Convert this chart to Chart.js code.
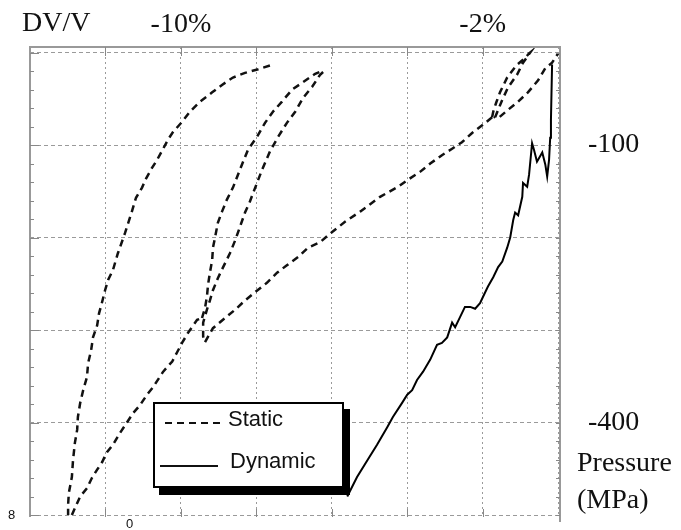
<!DOCTYPE html>
<html>
<head>
<meta charset="utf-8">
<script src="https://cdn.jsdelivr.net/npm/chart.js@4.4.1/dist/chart.umd.min.js"></script>
<style>
  body { margin: 0; background: #fff; }
  #wrap { position: relative; width: 681px; height: 530px; overflow: hidden; background: #fff; }
  .lbl { position: absolute; font-family: "Liberation Serif", serif; font-size: 28px; line-height: 1; color: #111; white-space: nowrap; }
  .small { position: absolute; font-family: "Liberation Sans", sans-serif; font-size: 13px; line-height: 1; color: #111; }
  #legend { position: absolute; left: 153px; top: 402px; width: 187px; height: 82px; border: 2px solid #000; background: #fff; box-shadow: 6px 7px 0 #000; }
  .leg { position: absolute; font-family: "Liberation Sans", sans-serif; font-size: 22px; line-height: 1; color: #111; }
</style>
</head>
<body>
<div id="wrap">
  <canvas id="chart" width="681" height="530"></canvas>
  <div class="lbl" style="left:22px; top:8px;">DV/V</div>
  <div class="lbl" style="left:577px; top:448px;">Pressure</div>
  <div class="lbl" style="left:577px; top:485px;">(MPa)</div>
  <div class="small" style="left:8px; top:508px;">8</div>
  <div class="small" style="left:126px; top:517px;">0</div>
  <div id="legend"></div>
  <svg style="position:absolute; left:0; top:0;" width="681" height="530">
    <line x1="165" y1="423" x2="224" y2="423" stroke="#111" stroke-width="2" stroke-dasharray="7 5"/>
    <line x1="160" y1="466" x2="218" y2="466" stroke="#111" stroke-width="2"/>
  </svg>
  <div class="leg" style="left:228px; top:408px;">Static</div>
  <div class="leg" style="left:230px; top:450px;">Dynamic</div>
</div>
<script>
// axis ticks (DV/V in %, pressure in MPa)
const xTickValues = [-14, -12, -10, -8, -6, -4, -2, 0];
const xTickText = ['', '', '-10%', '', '', '', '-2%', ''];
const yTickValues = [-500, -400, -300, -200, -100, 0];
const yTickText = ['', '-400', '', '', '-100', ''];

// static curves, [DV/V %, pressure MPa]
const staticOuter = [
  [-7.64,-14],[-7.95,-18],[-8.30,-22],[-8.62,-27],[-8.91,-35],[-9.17,-43],[-9.49,-53],[-9.76,-64],
  [-9.97,-75],[-10.21,-86],[-10.34,-94],[-10.47,-104],[-10.63,-116],[-10.77,-125],[-10.92,-136],
  [-11.03,-146],[-11.19,-157],[-11.30,-172],[-11.48,-195],[-11.67,-217],[-11.80,-235],[-11.93,-246],
  [-12.01,-257],[-12.09,-270],[-12.17,-282],[-12.22,-295],[-12.33,-308],[-12.38,-322],[-12.46,-336],
  [-12.49,-351],[-12.59,-365],[-12.67,-379],[-12.73,-394],[-12.75,-408],[-12.81,-422],[-12.86,-441],
  [-12.89,-459],[-12.97,-476],[-12.99,-489],[-12.99,-500]
];
const staticReload = [
  [-12.89,-500],[-12.67,-480],[-12.49,-471],[-12.36,-460],[-12.22,-451],[-12.09,-443],[-11.96,-432],
  [-11.80,-424],[-11.61,-411],[-11.43,-400],[-11.27,-390],[-11.08,-381],[-10.90,-370],[-10.74,-362],
  [-10.47,-345],[-10.23,-334],[-10.10,-324],[-9.97,-314],[-9.81,-303],[-9.57,-289],[-9.44,-287]
];
const staticLoopUp = [
  [-9.44,-287],[-9.36,-276],[-9.31,-264],[-9.28,-251],[-9.23,-238],[-9.17,-224],[-9.15,-211],
  [-9.09,-199],[-9.02,-184],[-8.91,-172],[-8.78,-159],[-8.62,-146],[-8.38,-121],[-8.22,-105],
  [-7.98,-91],[-7.77,-76],[-7.56,-64],[-7.32,-53],[-7.05,-40],[-6.76,-32],[-6.44,-23],[-6.26,-20]
];
const staticLoopDown = [
  [-6.23,-21],[-6.31,-24],[-6.52,-37],[-6.76,-49],[-6.97,-64],[-7.19,-76],[-7.42,-91],[-7.64,-107],
  [-7.85,-127],[-8.03,-146],[-8.17,-161],[-8.30,-173],[-8.43,-188],[-8.56,-203],[-8.70,-217],
  [-8.88,-232],[-9.02,-244],[-9.15,-257],[-9.23,-268],[-9.31,-278],[-9.41,-292],[-9.41,-307],[-9.36,-313]
];
const staticUnload = [
  [-9.36,-313],[-9.15,-298],[-8.83,-287],[-8.56,-278],[-8.30,-268],[-8.03,-259],[-7.72,-249],
  [-7.45,-238],[-7.19,-230],[-6.89,-221],[-6.63,-211],[-6.31,-205],[-5.99,-194],[-5.65,-183],
  [-5.25,-172],[-4.72,-156],[-4.24,-145],[-4.00,-138],[-3.66,-129],[-3.39,-120],[-3.08,-111],
  [-2.81,-104],[-2.55,-97],[-2.28,-87],[-1.99,-78],[-1.75,-70]
];
const staticTop = [
  [-1.75,-70],[-1.72,-64],[-1.64,-54],[-1.54,-43],[-1.35,-27],[-1.11,-14],[-0.88,-6],[-0.77,-1],
  [-0.74,0],[-0.93,-11],[-1.09,-24],[-1.33,-38],[-1.48,-51],[-1.59,-62],[-1.67,-70],
  [-1.59,-71],[-1.33,-62],[-1.06,-53],[-0.80,-43],[-0.53,-30],[-0.34,-17],[-0.16,-11],[0,-1]
];

// dynamic curve
const dynamicCurve = [
  [-5.59,-480],[-5.33,-459],[-5.06,-441],[-4.80,-424],[-4.53,-405],[-4.38,-394],[-4.14,-379],
  [-4.00,-370],[-3.87,-365],[-3.74,-354],[-3.58,-345],[-3.39,-332],[-3.21,-316],[-3.08,-314],
  [-2.94,-308],[-2.81,-292],[-2.73,-297],[-2.60,-286],[-2.47,-275],[-2.33,-275],[-2.20,-277],
  [-2.07,-271],[-1.99,-264],[-1.86,-253],[-1.72,-243],[-1.59,-232],[-1.48,-226],[-1.35,-211],
  [-1.27,-200],[-1.19,-181],[-1.14,-173],[-1.06,-176],[-0.95,-156],[-0.93,-141],[-0.82,-145],
  [-0.77,-132],[-0.69,-98],[-0.64,-105],[-0.56,-118],[-0.42,-108],[-0.34,-121],[-0.29,-134],
  [-0.24,-116],[-0.21,-92],[-0.19,-73],[-0.16,-13]
];

const toXY = arr => arr.map(p => ({x: p[0], y: p[1]}));

const staticParts = [staticOuter, staticReload, staticLoopUp, staticLoopDown, staticUnload, staticTop];
const datasets = staticParts.map(part => ({
  data: toXY(part), showLine: true, borderColor: '#111', borderWidth: 2.5,
  borderDash: [7, 5], pointRadius: 0, fill: false
}));
datasets.push({
  data: toXY(dynamicCurve), showLine: true, borderColor: '#000', borderWidth: 2,
  pointRadius: 0, fill: false
});

const serif = {family: 'Liberation Serif', size: 28};

// fixed axis sizes, no extra label padding
const fitV = w => s => { s.width = w; s.paddingTop = 0; s.paddingBottom = 0; };

// grey frame and small tick marks
const framePlugin = {
  id: 'frame',
  afterDraw(chart) {
    const {ctx, chartArea: a, scales} = chart;
    ctx.save();
    ctx.strokeStyle = '#999';
    ctx.lineWidth = 2;
    ctx.beginPath();
    ctx.moveTo(a.left, a.bottom + 2);
    ctx.lineTo(a.left, a.top);
    ctx.lineTo(a.right, a.top);
    ctx.lineTo(a.right, a.bottom + 7);
    ctx.stroke();
    ctx.lineWidth = 1;
    ctx.strokeStyle = '#888';
    ctx.beginPath();
    for (let v = -500; v <= 0; v += 20) {
      const y = Math.round(scales.y.getPixelForValue(v)) + 0.5;
      const len = v % 100 === 0 ? 9 : 4;
      ctx.moveTo(a.left, y); ctx.lineTo(a.left + len, y);
      ctx.moveTo(a.right, y); ctx.lineTo(a.right - 4, y);
    }
    for (const v of xTickValues.slice(1, -1)) {
      const x = Math.round(scales.x.getPixelForValue(v)) + 0.5;
      ctx.moveTo(x, a.top); ctx.lineTo(x, a.top + 9);
      ctx.moveTo(x, a.bottom - 6); ctx.lineTo(x, a.bottom + 2);
    }
    ctx.stroke();
    ctx.restore();
  }
};

new Chart(document.getElementById('chart'), {
  type: 'scatter',
  data: {datasets},
  options: {
    responsive: false,
    animation: false,
    layout: {padding: {left: 0, right: 0, top: 0, bottom: 15}},
    plugins: {legend: {display: false}, tooltip: {enabled: false}},
    scales: {
      x: {
        type: 'linear', position: 'top', min: -14, max: 0.05,
        afterBuildTicks: s => { s.ticks = xTickValues.map(v => ({value: v})); },
        afterFit: s => { s.height = 47; s.paddingLeft = 0; s.paddingRight = 0; },
        ticks: {callback: (v, i) => xTickText[i], font: serif, color: '#111', padding: 6, autoSkip: false, maxRotation: 0},
        grid: {color: '#9a9a9a', lineWidth: 1, drawTicks: false},
        border: {display: false, dash: [2, 3]}
      },
      y: {
        type: 'linear', position: 'left', min: -500, max: 6,
        afterBuildTicks: s => { s.ticks = yTickValues.map(v => ({value: v})); },
        afterFit: fitV(30),
        ticks: {display: false},
        grid: {color: '#9a9a9a', lineWidth: 1, drawTicks: false},
        border: {display: false, dash: [4, 3]}
      },
      y2: {
        type: 'linear', position: 'right', min: -500, max: 6,
        afterBuildTicks: s => { s.ticks = yTickValues.map(v => ({value: v})); },
        afterFit: fitV(121),
        ticks: {callback: (v, i) => yTickText[i], font: serif, color: '#111', padding: 28, autoSkip: false},
        grid: {display: false, drawTicks: false},
        border: {display: false}
      }
    }
  },
  plugins: [framePlugin]
});
</script>
</body>
</html>
